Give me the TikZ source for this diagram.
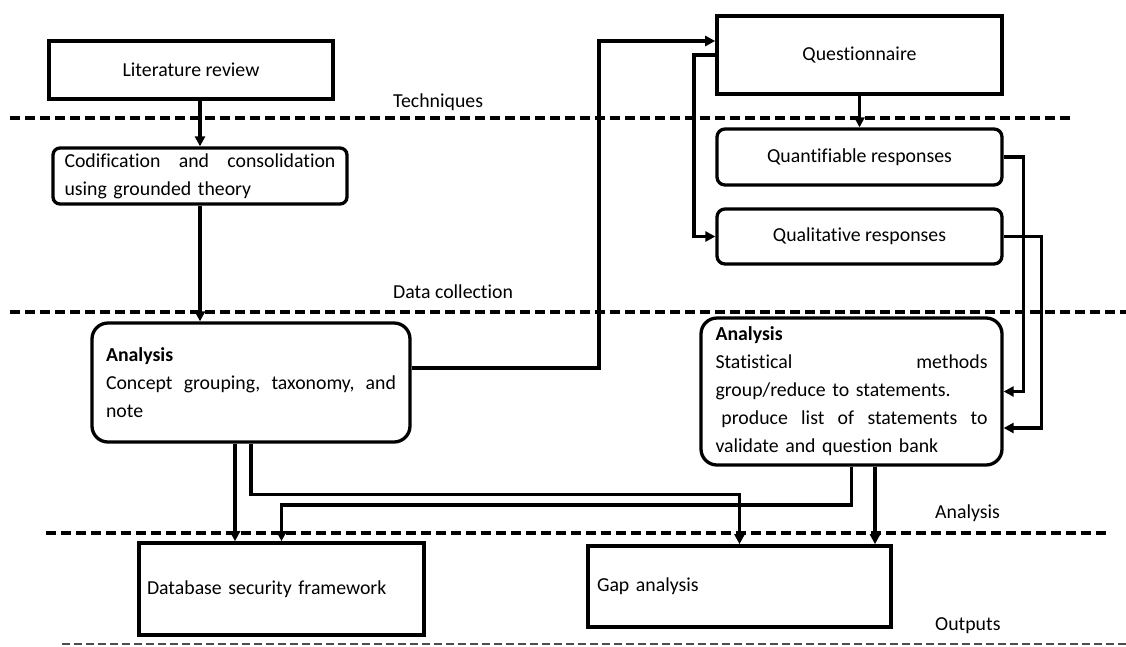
\documentclass[tikz,border=0pt]{standalone}
\usepackage{fontspec}
\setmainfont{Carlito}[Ligatures=NoCommon]
\usetikzlibrary{arrows.meta}
\begin{document}
\begin{tikzpicture}[x=1pt,y=-1pt,
  font=\fontsize{19.8}{28}\selectfont,
  box/.style={draw,line width=3.6pt,rectangle,inner sep=0pt,align=center},
  rbox/.style={draw,line width=3.3pt,rectangle,inner sep=0pt,align=left},
  arr/.style={line width=3.5pt,-{Triangle[length=10pt,width=10pt]}},
  sep/.style={line width=3.6pt,dash pattern=on 10pt off 5pt},
  thinsep/.style={line width=1.8pt,dash pattern=on 8pt off 4pt,black!70},
  lbl/.style={anchor=west,inner sep=0pt}]
\useasboundingbox (0,0) rectangle (1126,646);
% separators
\draw[sep] (10,118) -- (1072,118);
\draw[sep] (10,312) -- (1126,312);
\draw[sep] (46,533) -- (1107,533);
\draw[thinsep] (62,644) -- (1126,644);
% labels
\node[lbl] (tech) at (393,102) {Techniques};
\node[lbl] (dcol) at (393,292) {Data collection};
\node[lbl] (anl) at (935,513) {Analysis};
\node[lbl] (outl) at (935,626) {Outputs};
% boxes
\node[box,minimum width=284pt,minimum height=58pt] (lit) at (191,70) {Literature review};
\node[rbox,rounded corners=7pt,minimum width=294pt,minimum height=56pt,text width=271pt] (cod) at (200,176)
  {Codification\hfill and\hfill consolidation\\using grounded theory};
\node[rbox,rounded corners=16pt,minimum width=318pt,minimum height=119pt,text width=290pt] (an1) at (251,382.5)
  {\textbf{Analysis}\\Concept\hfill grouping,\hfill taxonomy,\hfill and\\note};
\node[box,minimum width=285pt,minimum height=78pt] (q) at (859.5,55) {Questionnaire};
\node[rbox,align=center,rounded corners=8pt,minimum width=285pt,minimum height=56pt] (quant) at (859.5,157) {Quantifiable responses};
\node[rbox,align=center,rounded corners=8pt,minimum width=285pt,minimum height=55pt] (qual) at (859.5,236.5) {Qualitative responses};
\node[rbox,rounded corners=16pt,minimum width=301pt,minimum height=147pt,text width=272pt] (an2) at (851.5,391.5)
  {\textbf{Analysis}\\Statistical\hfill methods\\group/reduce to statements.\\\hspace*{0.3em}produce\hfill list\hfill of\hfill statements\hfill to\\validate and question bank};
\node[box,align=left,minimum width=285pt,minimum height=92pt,text width=269pt] (dsf) at (281.5,589) {Database security framework};
\node[box,align=left,minimum width=303pt,minimum height=81pt,text width=285pt] (gap) at (739.5,586.5) {Gap analysis};
% connectors
\coordinate (j1) at (599,41);
\draw[arr] (cod.north |- lit.south) -- (cod.north);
\draw[arr] (cod.south) -- (cod.south |- an1.north);
\draw[arr] ([yshift=14.5pt]an1.east) -| (j1) -- ([yshift=14pt]q.west);
\draw[arr] (q.west) -- ++(-21,0) |- (qual.west);
\draw[arr] (q.south) -- (quant.north);
\draw[arr] (quant.east) -- ++(20,0) |- (an2.east);
\draw[arr] (qual.east) -- ++(38,0) |- ([yshift=-36.5pt]an2.east);
\draw[arr] ([xshift=-16pt]an1.south) -- ([xshift=-16pt]an1.south |- dsf.north);
\draw[arr] (an1.south) -- ++(0,51) -| (gap.north);
\draw[arr] (an2.south) -- ++(0,38.5) -| (dsf.north);
\draw[arr] ([xshift=23.5pt]an2.south) -- ([xshift=23.5pt]an2.south |- gap.north);
\end{tikzpicture}
\end{document}
